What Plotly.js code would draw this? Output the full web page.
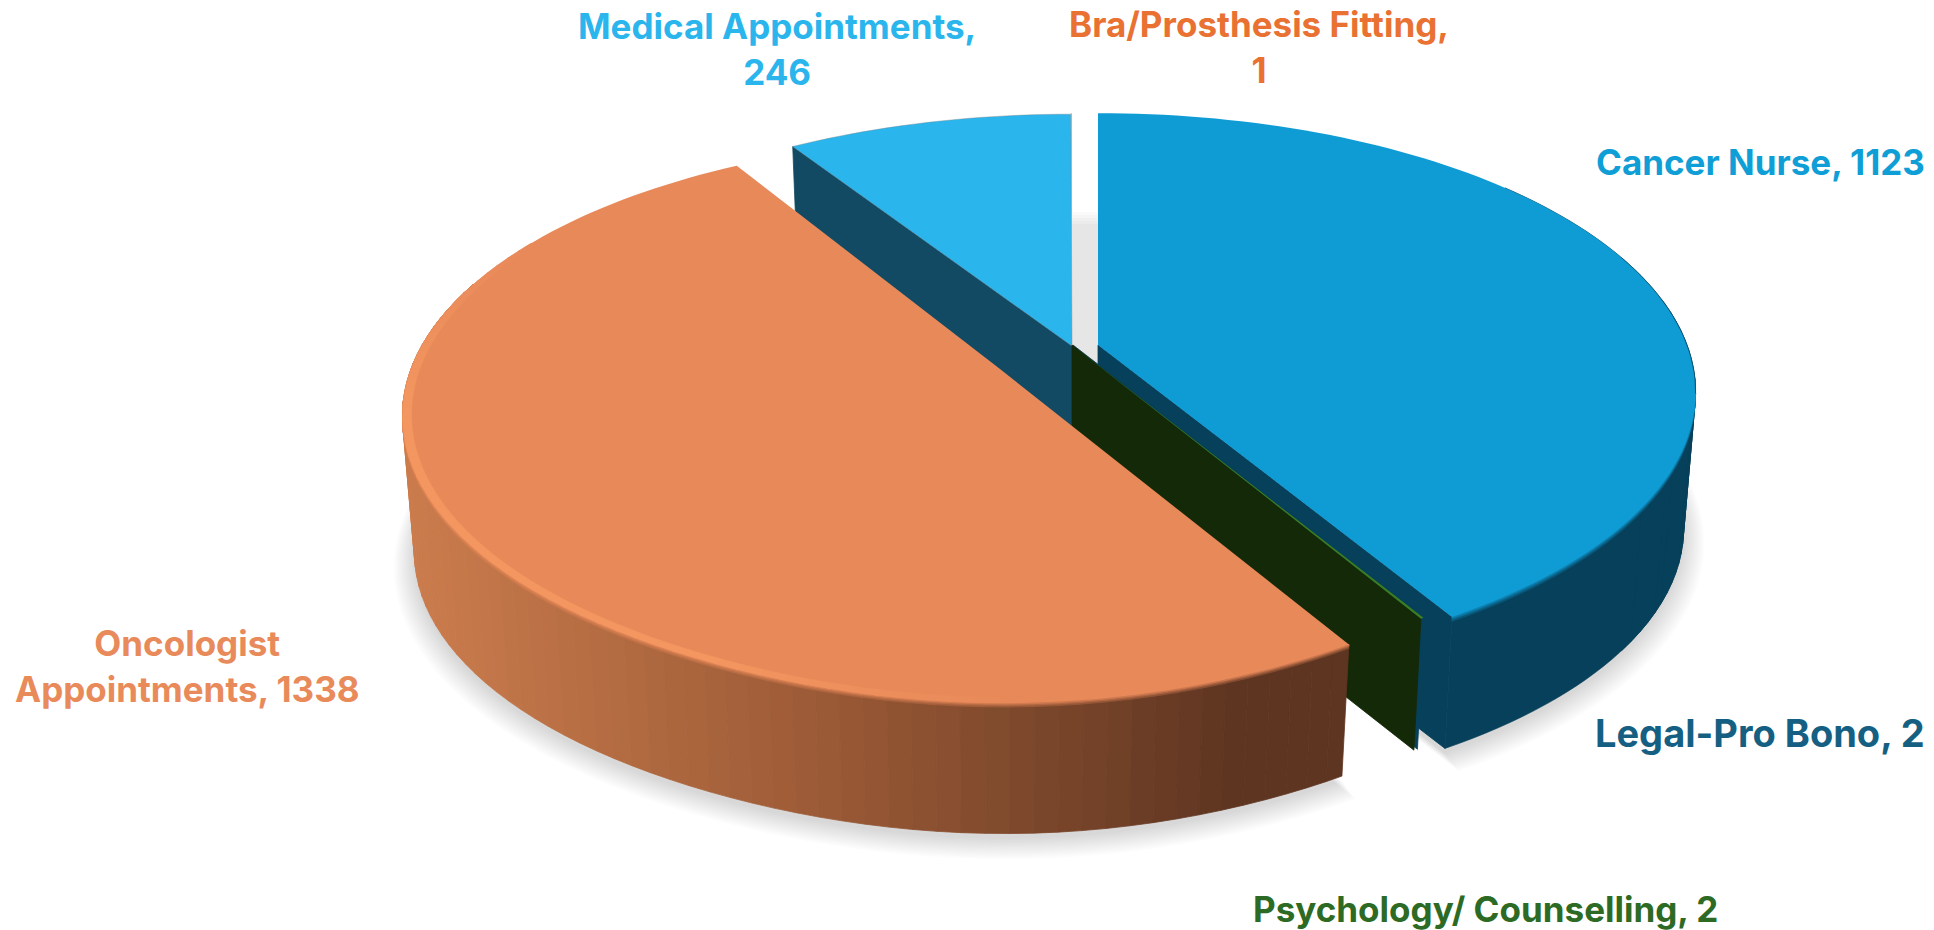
<!DOCTYPE html>
<html>
<head>
<meta charset="utf-8">
<script src="https://cdn.plot.ly/plotly-3.0.1.min.js"></script>
<style>html,body{margin:0;padding:0;background:#fff;overflow:hidden}</style>
</head>
<body>
<div id="chart" style="width:1934px;height:930px"></div>
<script>
// ---------- data ----------
const categories = ["Cancer Nurse", "Legal-Pro Bono", "Psychology/ Counselling", "Oncologist Appointments", "Medical Appointments", "Bra/Prosthesis Fitting"];
const values = [1123, 2, 2, 1338, 246, 1];
const labelTexts = ["Cancer Nurse, 1123", "Legal-Pro Bono, 2", "Psychology/ Counselling, 2", "Oncologist<br>Appointments, 1338", "Medical Appointments,<br>246", "Bra/Prosthesis Fitting,<br>1"];

// ---------- styles / layout of the 3D projection ----------
const labelColors = ["#0F9ED5", "#156082", "#2D6A23", "#E98A5A", "#2BB5ED", "#E97132"];
const labelSizes = [35, 38, 35, 35, 35, 35];
const topColors = ["#0F9CD5", "#07405A", "#3B7D23", "#E8895A", "#2BB5ED", "rgba(150,140,135,0.6)"];
const wallColors = ["#07405A", "#07405A", "#142908", "#C87A4C", "#134A63", "#7A3A18"];
const centres = [[1098,345],[1073,345],[1072,345],[1000,369],[1072,346],[1072,345]];
const endNudge = [0,0,0,2,0,0];
const bulge = [0,0,0,8,0,0];
const labelAnchors = [[1760,162],[1760,733],[1485,909],[187,666],[777,49],[1259,47]];
const A=589, B=271, K=0.169, S0=0.98, H=137;

function P(c, deg, r, depth){
  const t=deg*Math.PI/180, a=r*Math.sin(t), b=r*Math.cos(t), w=1+K*b;
  const s=1-(1-S0)*depth;
  const g=Math.max(0,Math.cos(t-178*Math.PI/180));
  const e=bulge[centres.indexOf(c)]*Math.pow(g,11)*r;
  return [c[0]+A*a/w*s, c[1]-B*b/w*s+H*depth+e];
}
const total = values.reduce((p,v)=>p+v,0);
const starts=[], ends=[];
values.reduce((acc,v,i)=>{starts[i]=acc/total*360; ends[i]=(acc+v)/total*360+endNudge[i]; return acc+v;},0);

const traces=[];
function poly(pts,fill,line,lw){
  traces.push({type:'scatter',mode:'lines',x:pts.map(p=>p[0]),y:pts.map(p=>p[1]),fill:'toself',fillcolor:fill,
    line:{color:line||fill,width:lw===undefined?(line?1:0):lw,simplify:false},hoverinfo:'skip',showlegend:false});
}
function arc(c,a0,a1,r,depth){
  const n=Math.max(2,Math.ceil(Math.abs(a1-a0)/1.5)), out=[];
  for(let i=0;i<=n;i++) out.push(P(c,a0+(a1-a0)*i/n,r,depth));
  return out;
}
function sector(i,r,depth,dy){
  const c=centres[i];
  const pts=[P(c,0,0,depth)].concat(arc(c,starts[i],ends[i],r,depth));
  pts.push(pts[0]);
  return pts.map(p=>[p[0],p[1]+(dy||0)]);
}
function hex(h){return [1,3,5].map(k=>parseInt(h.substr(k,2),16));}
function mix(c1,c2,t){t=Math.max(0,Math.min(1,t));const a=hex(c1),b=hex(c2);return 'rgb('+a.map((v,k)=>Math.round(v+(b[k]-v)*t)).join(',')+')';}
function edgeWall(i,deg,fill){
  const c=centres[i];
  const pts=[P(c,0,0,0),P(c,deg,1,0),P(c,deg,1,1),P(c,0,0,1)];
  poly(pts.concat([pts[0]]),fill,fill,0.8);
}
function rimBand(c,a0,a1,d0,d1,fill){
  const top=arc(c,a0,a1,1,d0), bot=arc(c,a0,a1,1,d1).reverse();
  const pts=top.concat(bot); pts.push(pts[0]);
  poly(pts,fill,fill,0.6);
}
function rimWall(i,a0,a1,colorFn,d0,d1){
  const c=centres[i], step=2; d0=d0||0; d1=d1===undefined?1:d1;
  for(let t=a1;t>a0;t-=step){
    const u=Math.max(a0,t-step);
    const p=[P(c,u,1,d0),P(c,t,1,d0),P(c,t,1,d1),P(c,u,1,d1)];
    const col=colorFn((p[0][0]+p[1][0])/2);
    poly(p.concat([p[0]]),col,col,0.8);
  }
}

// soft ground shadow
const LAYERS=12;
[3,0].forEach(i=>{
  for(let k=LAYERS;k>=0;k--){
    const d=k/LAYERS;
    poly(sector(i,1+0.034*d,1,5+7*d),'rgba(40,40,50,0.014)');
  }
});
// shadow seen through the gap between the upper slices
for(let k=0;k<5;k++) poly([[1072,212+k*3],[1098,212+k*3],[1098,370],[1072,370]],'rgba(70,70,85,0.027)');

// Medical Appointments
edgeWall(4,starts[4],wallColors[4]);
poly(sector(4,1,0),topColors[4],'rgba(110,130,140,0.5)',0.8);
// Bra/Prosthesis Fitting
poly(sector(5,1,0),topColors[5]);
// Cancer Nurse
edgeWall(0,ends[0],wallColors[0]);
rimBand(centres[0],50,ends[0],0,1,wallColors[0]);
rimWall(0,80,125,()=>wallColors[0]);
// soft bevel between top face and wall
[[0.035,0.25],[0.02,0.5],[0.008,0.75]].forEach(b=>rimBand(centres[0],100,ends[0],0,b[0],mix(wallColors[0],topColors[0],b[1])));
poly(sector(0,1,0),topColors[0]);
const nurseEdge=arc(centres[0],70,100,1,0);
traces.push({type:'scatter',mode:'lines',x:nurseEdge.map(p=>p[0]),y:nurseEdge.map(p=>p[1]),
  line:{color:'rgba(7,64,90,0.55)',width:1},hoverinfo:'skip',showlegend:false});
// Legal-Pro Bono
edgeWall(1,ends[1],wallColors[1]);
poly(sector(1,1,0),topColors[1]);
// Psychology / Counselling
edgeWall(2,ends[2],wallColors[2]);
poly(sector(2,1,0),topColors[2]);
// Oncologist Appointments
const oncoWall=x=>{
  const t=(x-405)/(1240-405);
  return t<0.5?mix('#CB7C4D','#9B5A36',t*2):mix('#9B5A36','#5E3521',(t-0.5)*2);
};
rimWall(3,starts[3],ends[3]-40,oncoWall);
// soft blend between wall and top near the right corner
[[0.03,0.3],[0.017,0.55],[0.007,0.8]].forEach(b=>{
  rimWall(3,starts[3],ends[3]-40,x=>{
    const w=oncoWall(x).match(/\d+/g).map(Number);
    const h='#'+w.map(v=>v.toString(16).padStart(2,'0')).join('');
    return mix(h,topColors[3],b[1]);
  },0,b[0]);
});
poly(sector(3,1,0),topColors[3]);
// highlighted bevel on the rim of the top face
const onc=centres[3];
const HIGHLIGHT='#F3965F';
for(let a=178;a<ends[3]-30;a+=2){
  const p=[P(onc,a,0.985,0),P(onc,a+2.2,0.985,0),P(onc,a+2.2,1,0),P(onc,a,1,0)];
  const col = a<260 ? mix(topColors[3],HIGHLIGHT,(a-178)/27) : mix(HIGHLIGHT,topColors[3],(a-260)/38);
  poly(p.concat([p[0]]),col,col,0.3);
}

const annotations=labelTexts.map((t,i)=>({
  x:labelAnchors[i][0],y:labelAnchors[i][1],xref:'x',yref:'y',text:'<b>'+t+'</b>',showarrow:false,
  align:'center',xanchor:'center',yanchor:'middle',
  font:{family:'Inter, "Noto Sans", sans-serif',size:labelSizes[i],color:labelColors[i]}
}));

Plotly.newPlot('chart',traces,{
  width:1934,height:930,margin:{l:0,r:0,t:0,b:0},paper_bgcolor:'#fff',plot_bgcolor:'#fff',showlegend:false,
  xaxis:{range:[0,1934],visible:false,fixedrange:true},
  yaxis:{range:[930,0],visible:false,fixedrange:true},
  annotations:annotations,hovermode:false
},{staticPlot:true,displayModeBar:false});
</script>
</body>
</html>
